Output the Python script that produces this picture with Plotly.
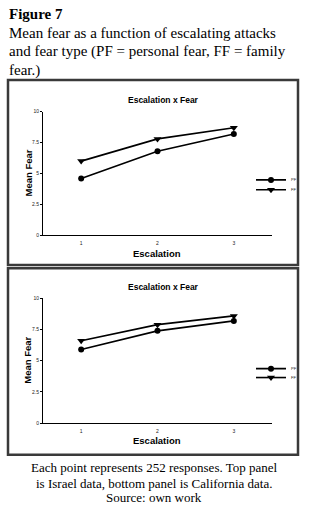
import plotly.graph_objects as go

# ---- data ----
escalation = [1, 2, 3]
top_pf = [4.6, 6.8, 8.2]   # Israel, personal fear
top_ff = [6.0, 7.8, 8.7]   # Israel, family fear
bot_pf = [5.9, 7.4, 8.2]   # California, personal fear
bot_ff = [6.6, 7.9, 8.6]   # California, family fear
y_tickvals = [0, 2.5, 5, 7.5, 10]
y_ticktext = ["0", "2.5", "5", "7.5", "10"]
x_ticktext = ["1", "2", "3"]

heading_lines = ["<b>Figure 7</b>",
                 "Mean fear as a function of escalating attacks",
                 "and fear type (PF = personal fear, FF = family",
                 "fear.)"]
caption_lines = ["Each point represents 252 responses. Top panel",
                 "is Israel data, bottom panel is California data.",
                 "Source: own work"]

W, H = 320, 511
def px(x):
    return x / W
def py(y):
    return 1 - y / H

SANS = "Liberation Sans, Arial, sans-serif"
SERIF = "Liberation Serif, Times New Roman, serif"

fig = go.Figure()

def add_pair(pf, ff, xa, ya, leg_pf, leg_ff):
    fig.add_trace(go.Scatter(
        x=escalation, y=pf, mode="lines+markers", name="PF",
        xaxis=xa, yaxis=ya, legend=leg_pf,
        line=dict(color="black", width=1.6),
        marker=dict(symbol="circle", size=6, color="black")))
    fig.add_trace(go.Scatter(
        x=escalation, y=ff, mode="lines+markers", name="FF",
        xaxis=xa, yaxis=ya, legend=leg_ff,
        line=dict(color="black", width=1.6),
        marker=dict(symbol="triangle-down", size=7, color="black")))

add_pair(top_pf, top_ff, "x", "y", "legend", "legend2")
add_pair(bot_pf, bot_ff, "x2", "y2", "legend3", "legend4")

xdom = [px(43), px(272)]
top_ydom = [py(235), py(110)]
bot_ydom = [py(425), py(299)]

def xaxis_cfg(anchor):
    return dict(domain=xdom, range=[0.5, 3.5], anchor=anchor,
                tickvals=escalation, ticktext=x_ticktext,
                showgrid=False, zeroline=False, showline=True,
                linecolor="black", linewidth=1, ticks="",
                ticklabelstandoff=3,
                tickfont=dict(family=SANS, size=5, color="#222"))

def yaxis_cfg(anchor, dom):
    return dict(domain=dom, range=[0, 10], anchor=anchor,
                tickvals=y_tickvals, ticktext=y_ticktext,
                showgrid=False, zeroline=False, showline=True,
                linecolor="black", linewidth=1, ticks="outside",
                ticklen=2, tickcolor="black",
                tickfont=dict(family=SANS, size=5, color="#222"))

legend_common = dict(bgcolor="rgba(0,0,0,0)", borderwidth=0,
                     font=dict(family=SANS, size=4, color="#222"),
                     xanchor="left", yanchor="middle", itemwidth=30)

LX = 251
fig.update_layout(
    width=W, height=H,
    margin=dict(l=0, r=0, t=0, b=0),
    paper_bgcolor="white", plot_bgcolor="white",
    showlegend=True,
    xaxis=xaxis_cfg("y"), yaxis=yaxis_cfg("x", top_ydom),
    xaxis2=xaxis_cfg("y2"), yaxis2=yaxis_cfg("x2", bot_ydom),
    legend=dict(x=px(LX), y=py(179), **legend_common),
    legend2=dict(x=px(LX), y=py(189), **legend_common),
    legend3=dict(x=px(LX), y=py(370), **legend_common),
    legend4=dict(x=px(LX), y=py(379), **legend_common),
)

# frames around each panel
for y0, y1 in [(78, 265), (268.5, 457)]:
    fig.add_shape(type="rect", xref="paper", yref="paper",
                  x0=px(8), x1=px(298), y0=py(y1), y1=py(y0),
                  line=dict(color="#3a3a3a", width=2.5), fillcolor="rgba(0,0,0,0)")

ann = []
# heading, one annotation per line
for txt, yc in zip(heading_lines, [11.5, 30, 49, 68]):
    ann.append(dict(text=txt, x=px(7), y=py(yc), xanchor="left", yanchor="middle",
                    align="left", showarrow=False, xref="paper", yref="paper",
                    font=dict(family=SERIF, size=15, color="black")))
# panel titles, axis titles
for title_y, xlab_y, ylab_y in [(98, 253, 172.5), (287, 443, 362)]:
    ann.append(dict(text="<b>Escalation x Fear</b>", x=px(163), y=py(title_y),
                    xanchor="center", yanchor="middle", showarrow=False,
                    xref="paper", yref="paper",
                    font=dict(family=SANS, size=8.5, color="black")))
    ann.append(dict(text="<b>Escalation</b>", x=px(157), y=py(xlab_y),
                    xanchor="center", yanchor="middle", showarrow=False,
                    xref="paper", yref="paper",
                    font=dict(family=SANS, size=9.5, color="black")))
    ann.append(dict(text="<b>Mean Fear</b>", x=px(28), y=py(ylab_y), textangle=-90,
                    xanchor="center", yanchor="middle", showarrow=False,
                    xref="paper", yref="paper",
                    font=dict(family=SANS, size=9.5, color="black")))
# caption, one annotation per line
for txt, yc in zip(caption_lines, [470, 486, 500]):
    ann.append(dict(text=txt, x=px(154), y=py(yc), xanchor="center", yanchor="middle",
                    align="center", showarrow=False, xref="paper", yref="paper",
                    font=dict(family=SERIF, size=13, color="black")))
fig.update_layout(annotations=ann)

fig.write_html("out.html", config={"displayModeBar": False},
               post_script="document.body.style.margin='0px';")
